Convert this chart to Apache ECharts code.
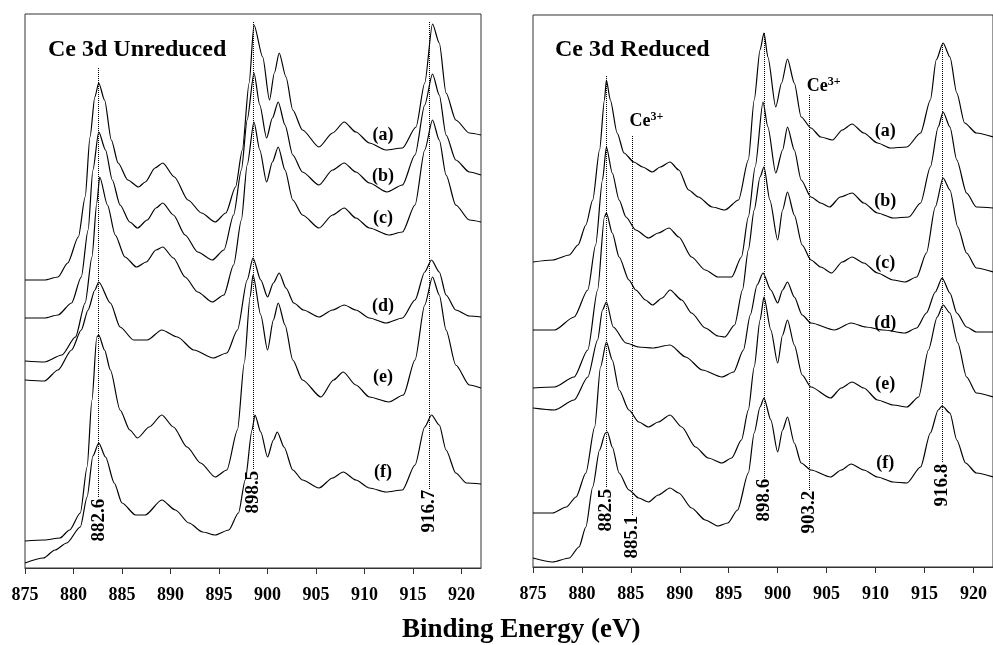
<!DOCTYPE html>
<html>
<head>
<meta charset="utf-8">
<script src="https://cdn.jsdelivr.net/npm/echarts@6/dist/echarts.min.js"></script>
<style>
  html, body { margin: 0; padding: 0; background: #fff; }
  #chart { width: 993px; height: 645px; }
</style>
</head>
<body>
<div id="chart"></div>
<script>
// Ce 3d XPS spectra, [binding energy (eV), intensity (a.u., stacked)]
const unreducedA = [[875,288],[877,288],[878.4,291],[879.4,305],[880.5,331],[881.2,371],[881.7,431],[882.2,471],[882.6,485],[883.2,468],[883.9,428],[884.6,405],[885.6,388],[886.7,381],[887.4,386],[888.4,400],[889.2,405],[890.4,391],[891.8,368],[893.2,355],[894.6,346],[895.7,355],[896.7,381],[897.4,418],[898.1,485],[898.6,543],[899.5,511],[900.2,468],[900.7,495],[901.2,515],[901.9,491],[902.6,458],[903.6,438],[905.3,421],[906.7,435],[907.9,446],[909.1,436],[910.5,425],[912.2,418],[913.9,420],[915.3,441],[916.2,485],[917,544],[917.7,525],[918.4,475],[919.4,448],[920.8,435],[922,433]];
const unreducedB = [[875,250],[877,250],[878.4,253],[879.8,265],[880.8,291],[881.5,338],[882,398],[882.6,436],[883.3,418],[884,388],[884.8,363],[885.8,346],[886.6,340],[887.6,348],[888.5,360],[889.2,365],[890.3,353],[891.5,333],[892.8,316],[894.3,308],[895.5,318],[896.5,353],[897.3,398],[897.9,448],[898.6,495],[899.2,463],[899.9,430],[900.5,450],[901.1,466],[901.8,443],[902.6,413],[903.6,396],[905.3,383],[906.7,398],[907.9,405],[909.1,396],[910.5,385],[912.3,376],[913.9,383],[915.2,413],[916.2,463],[917,494],[917.7,473],[918.4,433],[919.4,408],[920.8,396],[922,393]];
const unreducedC = [[875,207],[877,206],[878.8,213],[880.2,231],[881.2,265],[881.9,311],[882.4,365],[882.7,391],[883.5,363],[884.3,333],[885.3,311],[886.5,301],[887.5,306],[888.5,318],[889.2,321],[890.3,310],[891.5,291],[892.8,276],[894.3,266],[895.5,273],[896.5,303],[897.3,348],[897.9,403],[898.6,446],[899.2,418],[899.9,386],[900.5,406],[901.1,421],[901.8,398],[902.6,368],[903.6,353],[905.3,340],[906.7,353],[907.9,360],[909.1,350],[910.5,340],[912.5,333],[913.9,336],[915.2,363],[916.2,418],[917,448],[917.7,428],[918.4,393],[919.4,363],[920.8,348],[922,346]];
const unreducedD = [[875,188],[877,187],[878.4,198],[879.8,218],[880.8,238],[881.5,258],[882.2,278],[882.6,286],[883.8,265],[884.8,241],[886.2,228],[887.6,228],[889.1,238],[890.7,231],[892.4,218],[894.4,210],[895.8,215],[896.9,238],[897.9,288],[898.5,310],[899.3,288],[900,271],[900.6,285],[901.2,295],[901.9,280],[902.7,265],[903.7,258],[905.3,251],[906.7,258],[907.9,263],[909.1,258],[910.5,250],[912.2,245],[913.9,250],[915.2,268],[916.2,296],[916.9,308],[917.7,296],[918.4,273],[919.4,258],[920.8,252],[922,251]];
const unreducedE = [[875,27],[877,28],[878.6,30],[879.6,38],[880.7,55],[881.4,101],[881.9,168],[882.4,231],[882.6,233],[883.2,218],[883.8,198],[884.8,158],[885.8,138],[886.6,130],[887.8,141],[889.1,153],[890.3,141],[891.7,121],[893.1,105],[894.6,91],[895.8,98],[896.9,138],[897.6,205],[898.2,271],[898.5,293],[899.3,253],[900,218],[900.6,248],[901.1,265],[901.8,243],[902.6,208],[903.6,188],[905.5,171],[906.8,188],[907.8,196],[909.1,183],[910.5,171],[912.5,166],[914,173],[915.2,208],[916.2,263],[917,291],[917.7,273],[918.4,238],[919.4,203],[920.8,183],[922,180]];
const unreducedF = [[875,5],[876.9,10],[878.1,18],[879.3,25],[880.7,41],[881.4,71],[882,112],[882.6,125],[883.3,111],[884.2,85],[885,65],[886.4,53],[887.4,53],[889.1,68],[890.5,58],[891.9,45],[893.3,36],[894.6,33],[896,38],[897,55],[897.7,88],[898.4,138],[898.7,153],[899.3,136],[900,111],[900.6,128],[901,136],[901.7,121],[902.6,98],[903.6,88],[905.3,80],[906.7,90],[907.8,96],[909.1,88],[910.5,80],[912.2,76],[913.9,78],[915.2,103],[916.2,141],[916.9,153],[917.7,143],[918.4,118],[919.4,95],[920.5,85],[922,84]];

const reducedA = [[875,305],[877,307],[878.7,312],[879.6,322],[880.4,342],[881.1,367],[881.8,417],[882.3,467],[882.5,487],[882.9,467],[883.6,434],[884.3,414],[885.3,405],[886.2,400],[887.2,395],[888,400],[889,405],[889.9,397],[890.9,377],[891.9,370],[893.3,360],[894.6,357],[896,367],[897,407],[897.6,467],[898.2,517],[898.6,534],[899,510],[899.8,460],[900.4,484],[901,508],[901.7,484],[902.4,450],[903.4,439],[904.4,430],[905.6,427],[906.6,437],[907.6,443],[908.8,434],[910.2,424],[911.5,419],[913.2,420],[914.6,434],[915.6,467],[916.2,507],[916.9,524],[917.6,510],[918.3,474],[919.1,444],[920.3,434],[922,430]];
const reducedB = [[875,237],[877.2,237],[879.2,250],[880.6,277],[881.4,322],[882.1,387],[882.5,420],[883.1,394],[883.8,367],[884.5,350],[885.5,337],[886.8,329],[887.8,334],[888.9,339],[889.9,330],[891.2,310],[892.6,297],[893.9,290],[895.3,290],[896.3,310],[897,350],[897.7,400],[898.5,465],[899,440],[899.8,394],[900.5,417],[901,440],[901.7,417],[902.4,387],[903.4,370],[904.4,364],[905.3,360],[906.4,370],[907.6,374],[908.8,364],[910.2,354],[911.8,349],[913.4,350],[914.6,364],[915.6,400],[916.4,440],[916.9,455],[917.6,440],[918.3,407],[919.3,374],[920.3,360],[922,359]];
const reducedC = [[875,179],[877.2,180],[879.2,190],[880.6,217],[881.6,277],[882.3,350],[882.5,354],[883.1,334],[883.8,310],[884.8,287],[885.5,277],[886.5,267],[887.2,262],[888.2,269],[889,277],[890.2,267],[891.2,254],[892.6,239],[893.9,231],[894.6,230],[895.6,242],[896.4,277],[897,317],[897.6,357],[898.2,390],[898.6,400],[899.2,367],[900,327],[900.5,357],[901,375],[901.7,352],[902.5,322],[903.4,307],[904.4,300],[905.5,294],[906.6,305],[907.6,310],[908.8,304],[910.2,294],[911.8,287],[913,285],[914.2,290],[915.2,314],[916.1,360],[916.9,389],[917.6,377],[918.4,340],[919.3,314],[920.3,299],[922,295]];
const reducedD = [[875,159],[877.2,157],[879.2,167],[880.6,190],[881.6,227],[882.1,257],[882.5,265],[883.2,240],[884.5,224],[885.8,220],[887.2,219],[889,222],[890.6,210],[892.3,197],[894.3,190],[895.5,195],[896.5,217],[897.2,252],[897.9,282],[898.5,294],[899.3,277],[900,264],[900.5,277],[901,285],[901.7,270],[902.5,252],[903.4,244],[905.8,237],[907.5,244],[909,240],[910.8,237],[913,234],[914.2,239],[915.2,254],[916.1,275],[916.8,289],[917.6,274],[918.3,254],[919.3,240],[920.3,235],[922,235]];
const reducedE = [[875,54],[877,54],[878.4,60],[879.4,70],[880.4,94],[881.3,140],[881.9,200],[882.5,225],[883.1,207],[883.8,177],[884.8,157],[885.8,145],[886.8,140],[887.8,145],[889,152],[890.2,140],[891.6,120],[892.9,109],[894.3,104],[895.3,109],[896.3,127],[897,157],[897.6,200],[898.2,247],[898.6,270],[899.3,237],[900,204],[900.5,232],[901,247],[901.7,222],[902.5,192],[903.4,180],[905.4,169],[906.5,179],[907.6,185],[908.8,179],[910.2,167],[911.8,162],[913.2,160],[914.4,170],[915.4,217],[916.3,250],[916.9,262],[917.6,254],[918.4,224],[919.3,190],[920.3,174],[922,170]];
const reducedF = [[875,9],[877,5],[878.7,9],[879.7,20],[880.4,40],[881.1,80],[881.8,117],[882.4,134],[882.6,135],[883.1,120],[883.8,94],[884.8,77],[885.8,69],[886.8,65],[887.8,72],[889,79],[889.9,74],[891.2,59],[892.6,47],[893.9,41],[894.9,44],[895.9,57],[897,94],[897.6,134],[898.2,160],[898.6,169],[899.3,147],[900,115],[900.5,137],[901,150],[901.7,124],[902.4,104],[903.4,97],[905.4,90],[906.5,97],[907.5,103],[908.8,97],[910.2,90],[911.8,85],[913.2,84],[914.6,100],[915.6,134],[916.4,157],[916.8,161],[917.6,154],[918.3,127],[919.2,104],[920.3,94],[922,90]];

const sampleLabels = ['(a)', '(b)', '(c)', '(d)', '(e)', '(f)'];
const unreducedLabelLevels = [433, 392, 350, 262, 191, 96];
const reducedLabelLevels = [436, 366, 304, 244, 183, 104];

// peak positions marked with dotted lines: [energy, line top, line bottom, text centre]
const unreducedPeaks = [[882.6, 500, 70, 48], [898.5, 546, 98, 76], [916.7, 546, 78, 57]];
const reducedPeaks = [[882.5, 491, 79, 57], [885.1, 431, 52, 30], [898.6, 534, 89, 67], [903.2, 472, 77, 55], [916.8, 524, 104, 82]];
const ce3Marks = [[886.6, 446], [904.7, 481]];

const serif = '"Liberation Serif", "Times New Roman", serif';

const chart = echarts.init(document.getElementById('chart'));

function xAxisFor(gridIndex) {
    return {
        type: 'value',
        gridIndex: gridIndex,
        min: 875,
        max: 922,
        interval: 5,
        splitLine: { show: false },
        axisLine: { show: true, lineStyle: { color: '#333', width: 1 } },
        axisTick: { show: true, length: 6, lineStyle: { color: '#333' } },
        axisLabel: {
            margin: 18,
            fontFamily: serif,
            fontWeight: 'bold',
            fontSize: 18,
            color: '#000',
            showMaxLabel: false
        }
    };
}

function yAxisFor(gridIndex, max) {
    return { type: 'value', gridIndex: gridIndex, min: 0, max: max, show: false };
}

function peakMarks(peaks) {
    return {
        silent: true,
        symbol: ['none', 'none'],
        label: { show: false },
        lineStyle: { type: 'dotted', color: '#000', width: 1 },
        data: peaks.map(p => [{ coord: [p[0], p[1]] }, { coord: [p[0], p[2]] }])
    };
}

function peakTexts(peaks) {
    return peaks.map(p => ({
        coord: [p[0], p[3]],
        value: p[0].toFixed(1)
    }));
}

const spectra = [
    { data: unreducedA, g: 0 }, { data: unreducedB, g: 0 }, { data: unreducedC, g: 0 },
    { data: unreducedD, g: 0 }, { data: unreducedE, g: 0 }, { data: unreducedF, g: 0 },
    { data: reducedA, g: 1 }, { data: reducedB, g: 1 }, { data: reducedC, g: 1 },
    { data: reducedD, g: 1 }, { data: reducedE, g: 1 }, { data: reducedF, g: 1 }
];

const series = spectra.map((s, i) => {
    const k = i % 6;
    const labelX = s.g === 0 ? 911.9 : 911.0;
    const labelY = s.g === 0 ? unreducedLabelLevels[k] : reducedLabelLevels[k];
    return {
        type: 'line',
        name: (s.g === 0 ? 'Unreduced ' : 'Reduced ') + sampleLabels[k],
        xAxisIndex: s.g,
        yAxisIndex: s.g,
        data: s.data,
        showSymbol: false,
        smooth: 0.25,
        smoothMonotone: 'x',
        lineStyle: { color: '#000', width: 1.2 },
        itemStyle: { color: '#000' },
        silent: true,
        markPoint: {
            symbol: 'circle',
            symbolSize: 1,
            itemStyle: { color: 'rgba(0,0,0,0)' },
            label: {
                show: true,
                position: 'inside',
                formatter: sampleLabels[k],
                fontFamily: serif,
                fontWeight: 'bold',
                fontSize: 18,
                color: '#000'
            },
            data: [{ coord: [labelX, labelY] }]
        }
    };
});

// dotted reference lines and their rotated energy labels
[[0, unreducedPeaks], [1, reducedPeaks]].forEach(([g, peaks]) => {
    series.push({
        type: 'line',
        xAxisIndex: g,
        yAxisIndex: g,
        data: [],
        silent: true,
        markLine: peakMarks(peaks),
        markPoint: {
            symbol: 'circle',
            symbolSize: 1,
            itemStyle: { color: 'rgba(0,0,0,0)' },
            label: {
                show: true,
                position: 'inside',
                rotate: 90,
                formatter: '{c}',
                fontFamily: serif,
                fontWeight: 'bold',
                fontSize: 19,
                color: '#000'
            },
            data: peakTexts(peaks)
        }
    });
});

// Ce3+ annotations on the reduced panel
series.push({
    type: 'line',
    xAxisIndex: 1,
    yAxisIndex: 1,
    data: [],
    silent: true,
    markPoint: {
        symbol: 'circle',
        symbolSize: 1,
        itemStyle: { color: 'rgba(0,0,0,0)' },
        label: {
            show: true,
            position: 'inside',
            formatter: '{ce|Ce}{sup|3+}',
            rich: {
                ce: { fontFamily: serif, fontWeight: 'bold', fontSize: 18, color: '#000' },
                sup: { fontFamily: serif, fontWeight: 'bold', fontSize: 12, color: '#000', verticalAlign: 'top', padding: [0, 0, 8, 0] }
            }
        },
        data: ce3Marks.map(c => ({ coord: c }))
    }
});

const option = {
    animation: false,
    backgroundColor: '#fff',
    title: [
        { text: 'Ce 3d Unreduced', left: 43, top: 33, textStyle: { fontFamily: serif, fontWeight: 'bold', fontSize: 24, color: '#000' } },
        { text: 'Ce 3d Reduced', left: 550, top: 33, textStyle: { fontFamily: serif, fontWeight: 'bold', fontSize: 24, color: '#000' } }
    ],
    grid: [
        { left: 25, top: 14, width: 456, height: 554, show: true, borderColor: '#333', borderWidth: 1 },
        { left: 533, top: 15, width: 464, height: 552, show: true, borderColor: '#333', borderWidth: 1 }
    ],
    xAxis: [xAxisFor(0), xAxisFor(1)],
    yAxis: [yAxisFor(0, 554), yAxisFor(1, 552)],
    graphic: [{
        type: 'text',
        left: 402,
        top: 617,
        style: {
            text: 'Binding Energy (eV)',
            fontFamily: serif,
            fontWeight: 'bold',
            fontSize: 27,
            fill: '#000'
        }
    }],
    series: series
};

chart.setOption(option);

window.addEventListener('resize', function () {
    chart.resize();
});
</script>
</body>
</html>
